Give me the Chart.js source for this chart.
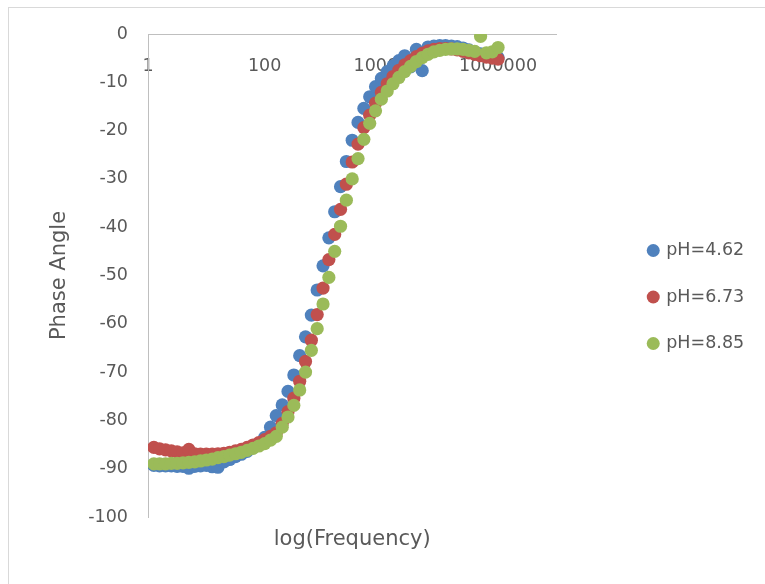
<!DOCTYPE html>
<html>
<head>
<meta charset="utf-8">
<script src="https://cdn.jsdelivr.net/npm/chart.js@4.4.0/dist/chart.umd.min.js"></script>
<style>
	html, body { margin: 0; padding: 0; background: #fff; }
</style>
</head>
<body>
<canvas id="graphPhase" width="765" height="584"></canvas>
<script>
var frequency = [
	1.26, 1.58, 2.00, 2.51, 3.16, 3.98, 5.01, 6.31, 7.94, 10,
	12.6, 15.8, 20.0, 25.1, 31.6, 39.8, 50.1, 63.1, 79.4, 100,
	126, 158, 200, 251, 316, 398, 501, 631, 794, 1000,
	1259, 1585, 1995, 2512, 3162, 3981, 5012, 6310, 7943, 10000,
	12589, 15849, 19953, 25119, 31623, 39811, 50119, 63096, 79433, 100000,
	125893, 158489, 199526, 251189, 316228, 398107, 501187, 630957, 794328, 1000000
]
var phase462 = [
	-89.3, -89.4, -89.4, -89.4, -89.5, -89.5, -89.9, -89.5, -89.4, -89.3,
	-89.6, -89.7, -88.6, -88.1, -87.5, -87.0, -86.4, -85.7, -84.8, -83.5,
	-81.4, -79.0, -76.8, -74.0, -70.6, -66.6, -62.7, -58.2, -53.0, -48.0,
	-42.2, -36.8, -31.6, -26.4, -22.0, -18.3, -15.4, -13.0, -10.9, -9.2,
	-7.8, -6.6, -5.5, -4.5, -6.8, -3.2, -7.6, -2.7, -2.5, -2.4,
	-2.4, -2.5, -2.6, -2.9, -3.3, -3.7, -4.1, -4.4, -4.7, -4.9
]
var phase673 = [
	-85.6, -85.9, -86.1, -86.3, -86.5, -86.7, -86.0, -86.9, -87.0, -87.0,
	-87.0, -86.9, -86.8, -86.6, -86.3, -86.0, -85.6, -85.1, -84.6, -84.0,
	-83.3, -82.6, -80.6, -78.2, -75.4, -71.9, -67.8, -63.4, -58.1, -52.6,
	-46.7, -41.5, -36.3, -31.1, -26.5, -22.8, -19.4, -16.8, -14.3, -12.1,
	-10.3, -8.8, -7.5, -6.4, -5.5, -4.7, -4.0, -3.5, -3.2, -3.0,
	-3.0, -3.1, -3.3, -3.6, -3.9, -4.2, -4.5, -4.8, -5.0, -5.2
]
var phase885 = [
	-89.0, -89.0, -89.0, -88.9, -88.9, -88.8, -88.7, -88.6, -88.4, -88.2,
	-88.0, -87.7, -87.5, -87.2, -86.9, -86.6, -86.2, -85.8, -85.3, -84.8,
	-84.1, -83.3, -81.4, -79.3, -76.9, -73.7, -70.0, -65.5, -61.0, -55.9,
	-50.4, -45.0, -39.8, -34.4, -30.0, -25.8, -21.8, -18.5, -15.9, -13.5,
	-11.8, -10.3, -9.0, -7.8, -6.7, -5.7, -4.9, -4.2, -3.7, -3.4,
	-3.2, -3.1, -3.1, -3.2, -3.4, -3.6, -0.5, -3.9, -3.7, -2.8
]
var seriesNames = ['pH=4.62', 'pH=6.73', 'pH=8.85']
var seriesColors = ['#4F81BD', '#C0504D', '#9BBB59']
var xTicks = [1, 100, 10000, 1000000]

function toPoints(values) {
	return values.map(function (v, i) {
		return {x: frequency[i], y: v}
	})
}

var allPhases = [phase462, phase673, phase885]
var datasets = []
allPhases.forEach(function (values, i) {
	datasets.push({
		label: seriesNames[i],
		data: toPoints(values),
		backgroundColor: seriesColors[i],
		borderColor: seriesColors[i],
		pointRadius: 6.6,
		pointHoverRadius: 6.6,
		pointBorderWidth: 0,
		showLine: false,
		order: 3 - i // green on top, like the excel sheet
	})
})

// white background + light frame of the chart
var frame = {
	id: 'frame',
	beforeDraw: function (chart) {
		var ctx = chart.ctx
		ctx.save()
		ctx.fillStyle = '#fff'
		ctx.fillRect(0, 0, chart.width, chart.height)
		ctx.strokeStyle = '#D9D9D9'
		ctx.lineWidth = 1
		ctx.strokeRect(8.5, 7.5, 1000, 1000)
		ctx.restore()
	}
}

Chart.defaults.font.family = 'DejaVu Sans'
Chart.defaults.font.size = 17.5
Chart.defaults.color = '#595959'

var ctx = document.getElementById('graphPhase').getContext('2d');
var myChart = new Chart(ctx, {
	type: 'scatter',
	data: { datasets: datasets },
	plugins: [frame],
	options: {
		responsive: false,
		animation: false,
		devicePixelRatio: 1,
		layout: { padding: { left: 0, top: 34, right: 21, bottom: 24 } },
		plugins: {
			tooltip: { enabled: false },
			legend: {
				position: 'right',
				labels: {
					usePointStyle: true,
					pointStyle: 'circle',
					boxWidth: 8.5,
					boxHeight: 9.2,
					padding: 29,
					color: '#595959',
					sort: function (a, b) { return a.datasetIndex - b.datasetIndex }
				}
			}
		},
		scales: {
			x: {
				type: 'logarithmic',
				axis: 'x',
				position: { y: 0 },
				min: 1,
				max: 10000000,
				afterBuildTicks: function (scale) {
					scale.ticks = xTicks.map(function (v) { return {value: v} })
				},
				grid: { display: false, drawTicks: false },
				border: { display: true, color: '#BFBFBF', width: 1 },
				ticks: {
					padding: 21.5,
					maxRotation: 0,
					autoSkip: false,
					callback: function (v) { return String(v) }
				}
			},
			xTitle: {
				type: 'linear',
				axis: 'x',
				position: 'bottom',
				grid: { display: false, drawTicks: false },
				border: { display: false },
				ticks: { display: false },
				title: {
					display: true,
					text: 'log(Frequency)',
					font: { size: 21 },
					padding: { top: 10.4, bottom: 7.4 }
				}
			},
			y: {
				type: 'linear',
				position: 'left',
				min: -100,
				max: 0,
				afterFit: function (scale) { scale.width = 148 },
				grid: { display: false, drawTicks: false },
				border: { display: true, color: '#BFBFBF', width: 1 },
				ticks: { stepSize: 10, padding: 20 },
				title: {
					display: true,
					text: 'Phase Angle',
					font: { size: 21 },
					padding: { top: 47.4, bottom: 0 }
				}
			},
			legendGap: {
				type: 'linear',
				axis: 'y',
				position: 'right',
				afterFit: function (scale) { scale.width = 63.6 },
				grid: { display: false, drawTicks: false },
				border: { display: false },
				ticks: { display: false }
			}
		}
	}
})
</script>
</body>
</html>
